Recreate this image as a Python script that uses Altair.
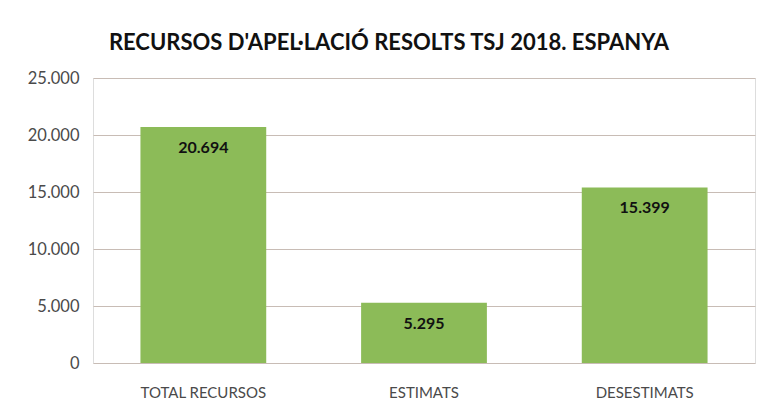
import altair as alt
import pandas as pd

categories = ["TOTAL RECURSOS", "ESTIMATS", "DESESTIMATS"]
values = [20694, 5295, 15399]

df = pd.DataFrame({"cat": categories, "val": values})

FONT = "Lato"
GREEN = "#8cbb58"

base = alt.Chart(df).transform_calculate(
    label="replace(format(datum.val, ','), ',', '.')"
)

bars = base.mark_bar(color=GREEN).encode(
    x=alt.X("cat:N", sort=categories, title=None,
            scale=alt.Scale(paddingInner=0.43, paddingOuter=0.215),
            axis=alt.Axis(labelAngle=0, labelFont=FONT, labelFontSize=15,
                          labelColor="#4a4a4a", labelPadding=22, ticks=False,
                          domain=False, grid=False)),
    y=alt.Y("val:Q", title=None,
            scale=alt.Scale(domain=[0, 25000], nice=False),
            axis=alt.Axis(values=[0, 5000, 10000, 15000, 20000, 25000],
                          labelExpr="replace(format(datum.value, ','), ',', '.')",
                          labelFont=FONT, labelFontSize=16.5, labelColor="#4a4a4a",
                          labelPadding=14, ticks=False, domain=False,
                          gridColor="#c8bcb5", gridWidth=1)),
)

text = base.mark_text(font=FONT, fontSize=16, fontWeight="bold", color="#111111",
                      baseline="middle", dy=21).encode(
    x=alt.X("cat:N", sort=categories),
    y=alt.Y("val:Q"),
    text="label:N",
)

chart = (bars + text).properties(
    width=662,
    height=285,
    autosize=alt.AutoSizeParams(type="none"),
    padding={"left": 85, "top": 70, "right": 5, "bottom": 40},
    title=alt.TitleParams("RECURSOS D'APEL·LACIÓ RESOLTS TSJ 2018. ESPANYA",
                          font=FONT, fontSize=22, fontWeight="bold", color="#111111",
                          anchor="middle", dx=-35, offset=15),
).configure_view(stroke=None).configure(background="white")

chart.save("out.html", embed_options={"renderer": "svg", "actions": False})
